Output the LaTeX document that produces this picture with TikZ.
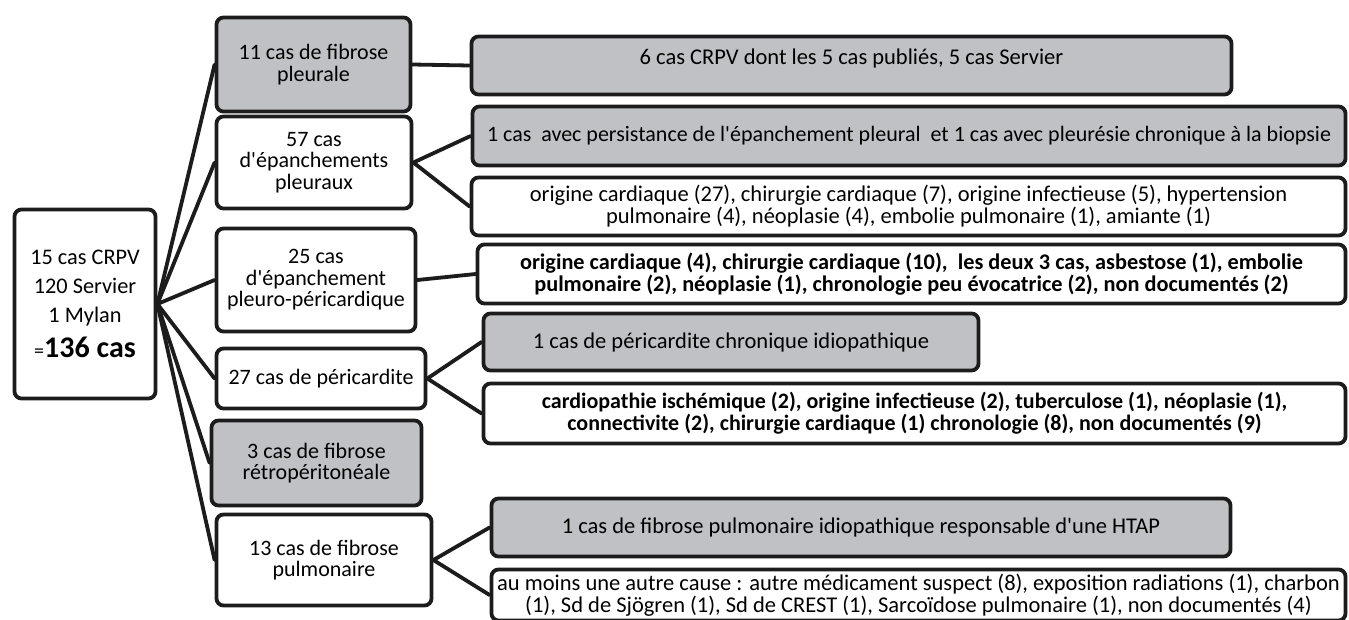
\documentclass[tikz,border=0pt]{standalone}
\usepackage{fontspec}
\setmainfont{Carlito}[Ligatures=TeXOff]
\definecolor{boxgray}{RGB}{192,193,196}
\definecolor{edge}{RGB}{28,28,28}

\begin{document}
\begin{tikzpicture}[x=1pt,y=-1pt]
  \tikzstyle{box}=[draw=edge,line width=3.8pt,rounded corners=7pt,align=center,inner sep=2pt,font=\fontsize{22}{21.5}\selectfont]
  \tikzstyle{grey}=[box,fill=boxgray]
  \tikzstyle{detail}=[box,font=\fontsize{22.5}{22}\selectfont]
  \tikzstyle{link}=[draw=edge,line width=3.8pt,line cap=round]
  \useasboundingbox (0,0) rectangle (1349,619);
  \clip (0,0) rectangle (1349,619);

  % total
  \node[box,minimum width=141pt,minimum height=189pt,font=\fontsize{22.3}{29}\selectfont] (total) at (85,304)
    {15 cas CRPV\\120 Servier\\1 Mylan\\[6pt]{\fontsize{20}{20}\selectfont=}{\fontsize{30}{30}\selectfont\bfseries 136 cas}};

  % first level
  \node[grey,minimum width=194pt,minimum height=94pt] (pleur) at (313.5,64.5) {11 cas de fibrose\\pleurale};
  \node[box,minimum width=195pt,minimum height=92pt] (epanch) at (314,162.5) {57 cas\\d'épanchements\\pleuraux};
  \node[box,minimum width=199pt,minimum height=103pt] (pericard) at (316,280) {25 cas\\d'épanchement\\pleuro-péricardique};
  \node[box,minimum width=209pt,minimum height=60pt] (peri) at (321,378.5) {27 cas de péricardite};
  \node[grey,minimum width=210pt,minimum height=85pt] (retro) at (316.5,463) {3 cas de fibrose\\rétropéritonéale};
  \node[box,minimum width=215pt,minimum height=91pt] (pulm) at (324,560) {13 cas de fibrose\\pulmonaire};

  % second level
  \node[grey,font=\fontsize{22.5}{22}\selectfont,minimum width=760pt,minimum height=58pt] (pleurA) at (851.5,65.5)
    {\raisebox{7pt}[\height][\depth]{6 cas CRPV dont les 5 cas publiés, 5 cas Servier}};
  \node[grey,font=\fontsize{22}{22}\selectfont,minimum width=873pt,minimum height=59pt] (epanchA) at (909,136)
    {1 cas\ \ avec persistance de l'épanchement pleural\ \ et 1 cas avec pleurésie chronique à la biopsie};
  \node[detail,minimum width=874pt,minimum height=58pt] (epanchB) at (908.5,206.5)
    {origine cardiaque (27), chirurgie cardiaque (7), origine infectieuse (5), hypertension\\pulmonaire (4), néoplasie (4), embolie pulmonaire (1), amiante (1)};
  \node[detail,font=\fontsize{22.3}{22}\selectfont\bfseries,minimum width=868pt,minimum height=59pt] (pericardA) at (911.5,274)
    {origine cardiaque (4), chirurgie cardiaque (10),\ \ les deux 3 cas, asbestose (1), embolie\\pulmonaire (2), néoplasie (1), chronologie peu évocatrice (2), non documentés (2)};
  \node[grey,font=\fontsize{22.5}{22}\selectfont,minimum width=495pt,minimum height=57pt] (periA) at (731,342)
    {1 cas de péricardite chronique idiopathique};
  \node[detail,font=\fontsize{22}{22}\selectfont\bfseries,minimum width=862pt,minimum height=60pt] (periB) at (914.5,413.5)
    {cardiopathie ischémique (2), origine infectieuse (2), tuberculose (1), néoplasie (1),\\connectivite (2), chirurgie cardiaque (1) chronologie (8), non documentés (9)};
  \node[grey,font=\fontsize{22.5}{22}\selectfont,minimum width=739pt,minimum height=58pt] (pulmA) at (861,527.5)
    {1 cas de fibrose pulmonaire idiopathique responsable d'une HTAP};
  \node[detail,minimum width=854pt,minimum height=51pt,inner sep=1pt] (pulmB) at (918.5,595)
    {au moins une autre cause : autre médicament suspect (8), exposition radiations (1), charbon\\(1), Sd de Sjögren (1), Sd de CREST (1), Sarcoïdose pulmonaire (1), non documentés (4)};

  % links
  \draw[link] (total.east) -- (pleur.west);
  \draw[link] (total.east) -- (epanch.west);
  \draw[link] (total.east) -- (pericard.west);
  \draw[link] (total.east) -- (peri.west);
  \draw[link] (total.east) -- (retro.west);
  \draw[link] (total.east) -- (pulm.west);

  \draw[link] (pleur.east) -- (pleurA.west);
  \draw[link] (epanch.east) -- (epanchA.west);
  \draw[link] (epanch.east) -- (epanchB.west);
  \draw[link] (pericard.east) -- (pericardA.west);
  \draw[link] (peri.east) -- (periA.west);
  \draw[link] (peri.east) -- (periB.west);
  \draw[link] (pulm.east) -- (pulmA.west);
  \draw[link] (pulm.east) -- (pulmB.west);
\end{tikzpicture}
\end{document}
